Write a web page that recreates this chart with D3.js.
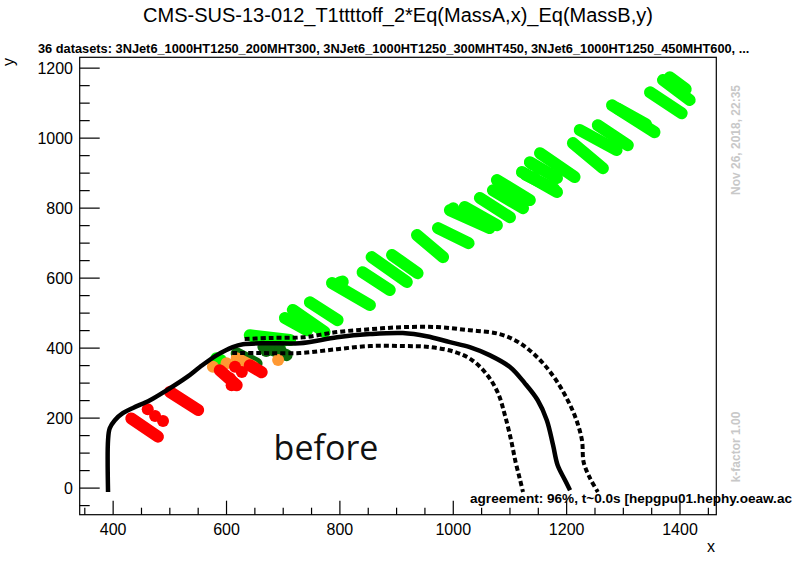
<!DOCTYPE html>
<html><head><meta charset="utf-8">
<script src="https://cdn.jsdelivr.net/npm/d3@7"></script>
<style>body{margin:0;background:#fff}svg{display:block}</style>
</head><body><div id="c"></div>
<script>
// ---- data ----
const title = "CMS-SUS-13-012_T1ttttoff_2*Eq(MassA,x)_Eq(MassB,y)";
const subtitle = "36 datasets: 3NJet6_1000HT1250_200MHT300, 3NJet6_1000HT1250_300MHT450, 3NJet6_1000HT1250_450MHT600,  ...";
const xTicks = [400, 600, 800, 1000, 1200, 1400];
const yTicks = [0, 200, 400, 600, 800, 1000, 1200];

// observed limit (solid) [x, y]
const limitObs = [[391,-11],[391,137],[394,171],[403,194],[417,214],[435,229],[465,251],[495,280],[530,317],[553,346],[583,380],[611,403],[629,411],[671,414],[729,414],[795,431],[853,440],[911,443],[953,434],[994,417],[1029,403],[1064,380],[1100,346],[1126,300],[1149,251],[1165,194],[1176,123],[1184,66],[1197,23],[1206,-6]];
// +1 sigma (dotted)
const limitUp = [[632,426],[677,429],[735,431],[795,446],[853,454],[911,460],[971,460],[1029,451],[1082,440],[1118,414],[1153,366],[1179,314],[1200,257],[1216,200],[1227,137],[1230,74],[1241,29],[1255,-11]];
// -1 sigma (dotted)
const limitDown = [[610,386],[654,386],[729,386],[795,397],[853,406],[911,406],[959,403],[1003,389],[1033,366],[1060,323],[1079,271],[1091,209],[1102,137],[1110,74],[1117,29],[1123,-11]];

// point strips [x1, y1, x2, y2]
const greenStrips = [
 [703,486,742,451],[717,509,773,446],[747,531,796,480],[786,586,853,523],[800,588,805,590],
 [840,617,888,566],[856,660,918,589],[892,666,937,614],[936,723,982,660],[973,743,1027,700],
 [994,794,1064,743],[1020,803,1077,751],[1047,829,1100,774],[1070,851,1123,800],[1077,880,1135,823],
 [1121,903,1183,846],[1128,895,1178,855],[1135,931,1183,886],[1153,957,1214,889],[1211,986,1264,914],
 [1223,1023,1288,966],[1255,1037,1308,980],[1280,1094,1355,1017],[1290,1085,1340,1040],[1347,1131,1403,1071],
 [1370,1166,1417,1109],[1385,1170,1410,1140],[641,437,712,423],[650,430,700,420]];
const greenDots = [[582,371],[590,366],[1382,1174],[1000,800],[1140,925],[1150,912]];
const darkGreenStrips = [[618,385,653,356],[665,404,706,380]];
const darkGreenDots = [[670,392],[695,395]];
const orangeStrips = [[618,371,647,347]];
const orangeDots = [[576,347],[600,357],[691,366]];
const redStrips = [[432,199,479,147],[500,275,550,223],[588,337,618,294],[641,351,662,331]];
const redDots = [[461,225],[474,206],[488,192],[609,294],[606,314],[615,347],[627,332]];

// ---- drawing ----
const W = 796, H = 572;
const L = 79.7, R = 716.3, T = 57.3, B = 514.7;
const svg = d3.select("#c").append("svg").attr("width", W).attr("height", H)
  .style("font-family", "'Liberation Sans', Arial, Helvetica, sans-serif");
const x = d3.scaleLinear().domain([341, 1464]).range([L, R]);
const y = d3.scaleLinear().domain([-76, 1231]).range([B, T]);

const plot = svg.append("g");
const clip = svg.append("clipPath").attr("id","pc").append("rect")
  .attr("x", L).attr("y", T).attr("width", R-L).attr("height", B-T);
const g = plot.append("g").attr("clip-path","url(#pc)");

function strips(data, color) {
  g.selectAll(null).data(data).enter().append("line")
    .attr("x1", d=>x(d[0])).attr("y1", d=>y(d[1]))
    .attr("x2", d=>x(d[2])).attr("y2", d=>y(d[3]))
    .attr("stroke", color).attr("stroke-width", 12).attr("stroke-linecap","round");
}
function dots(data, color) {
  g.selectAll(null).data(data).enter().append("circle")
    .attr("cx", d=>x(d[0])).attr("cy", d=>y(d[1])).attr("r", 6).attr("fill", color);
}
strips(greenStrips, "#00ff00"); dots(greenDots, "#00ff00");
strips(darkGreenStrips, "#0b6b0b"); dots(darkGreenDots, "#0b6b0b");
strips(orangeStrips, "#ff9933"); dots(orangeDots, "#ff9933");
strips(redStrips, "#ff0000"); dots(redDots, "#ff0000");

const line = d3.line().x(d=>x(d[0])).y(d=>y(d[1])).curve(d3.curveCatmullRom);
g.append("path").attr("d", line(limitUp)).attr("fill","none").attr("stroke","#000")
  .attr("stroke-width",4).attr("stroke-dasharray","5,3");
g.append("path").attr("d", line(limitDown)).attr("fill","none").attr("stroke","#000")
  .attr("stroke-width",4).attr("stroke-dasharray","5,3");
g.append("path").attr("d", line(limitObs)).attr("fill","none").attr("stroke","#000")
  .attr("stroke-width",4.5);

// frame
svg.append("rect").attr("x", L).attr("y", T).attr("width", R-L).attr("height", B-T)
  .attr("fill","none").attr("stroke","#000").attr("stroke-width",1.2);

// x axis ticks
const xMinor = d3.range(350, 1464, 50);
svg.selectAll(null).data(xMinor).enter().append("line")
  .attr("x1", d=>x(d)).attr("x2", d=>x(d)).attr("y1", B)
  .attr("y2", d=> xTicks.includes(d) ? B-14 : B-7).attr("stroke","#000").attr("stroke-width",1.2);
svg.selectAll(null).data(xTicks).enter().append("text")
  .attr("x", d=>x(d)).attr("y", 535).attr("text-anchor","middle")
  .attr("font-size",16).text(d=>d);
// y axis ticks
const yMinor = d3.range(-50, 1231, 50);
svg.selectAll(null).data(yMinor).enter().append("line")
  .attr("y1", d=>y(d)).attr("y2", d=>y(d)).attr("x1", L)
  .attr("x2", d=> yTicks.includes(d) ? L+20 : L+10).attr("stroke","#000").attr("stroke-width",1.2);
svg.selectAll(null).data(yTicks).enter().append("text")
  .attr("x", 73).attr("y", d=>y(d)+6).attr("text-anchor","end")
  .attr("font-size",16).text(d=>d);

// titles
svg.append("text").attr("x", 398).attr("y", 22).attr("text-anchor","middle")
  .attr("font-size",20).text(title);
svg.append("text").attr("x", 38).attr("y", 53).attr("font-size",12.8).attr("font-weight","bold").text(subtitle);
svg.append("text").attr("x", 711).attr("y", 552).attr("text-anchor","middle").attr("font-size",16).text("x");
svg.append("text").attr("transform","translate(14,62) rotate(-90)").attr("text-anchor","middle")
  .attr("font-size",16).text("y");
svg.append("text").attr("x", 326).attr("y", 460).attr("text-anchor","middle")
  .attr("font-family","'Open Sans','Noto Sans',sans-serif").attr("font-size",34).attr("fill","#111").text("before");
svg.append("text").attr("x", 470).attr("y", 503).attr("font-size",13.6).attr("font-weight","bold")
  .attr("textLength", 322).attr("lengthAdjust","spacingAndGlyphs")
  .text("agreement: 96%, t~0.0s [hepgpu01.hephy.oeaw.ac");
svg.append("text").attr("transform","translate(740,140) rotate(-90)").attr("text-anchor","middle")
  .attr("font-size",12).attr("font-weight","bold").attr("fill","#c8c8c8").text("Nov 26, 2018, 22:35");
svg.append("text").attr("transform","translate(740,447) rotate(-90)").attr("text-anchor","middle")
  .attr("font-size",12).attr("font-weight","bold").attr("fill","#c8c8c8").text("k-factor 1.00");
</script></body></html>
